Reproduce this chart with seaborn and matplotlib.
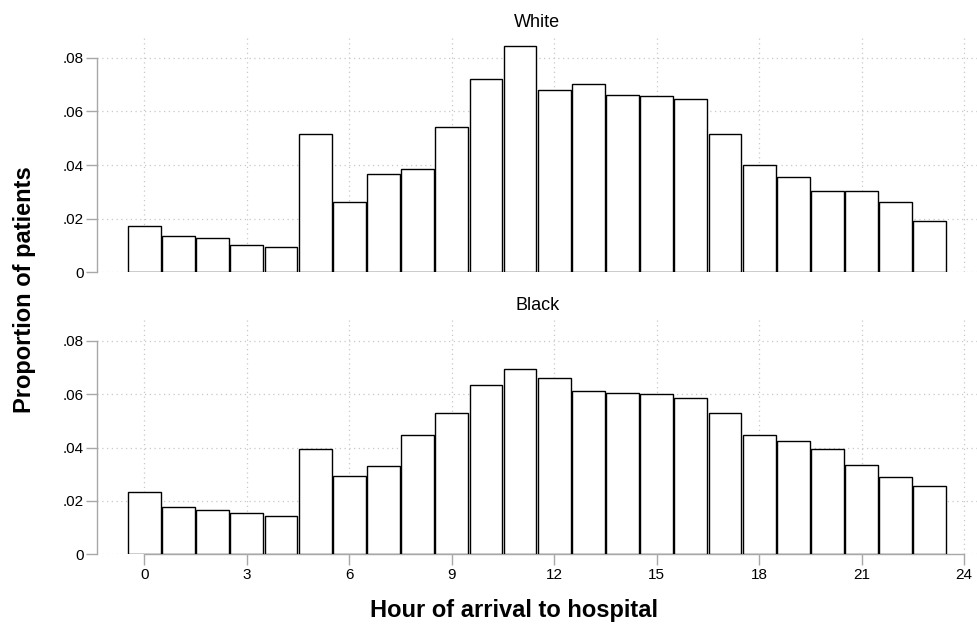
import pandas as pd
import matplotlib.pyplot as plt
import seaborn as sns

# hour of arrival, one bar per hour
hours = list(range(24))

white = [0.0174, 0.0137, 0.0129, 0.0101, 0.0096, 0.0517, 0.0262, 0.0365,
         0.0385, 0.0542, 0.0720, 0.0843, 0.0680, 0.0704, 0.0660, 0.0656,
         0.0647, 0.0514, 0.0402, 0.0354, 0.0305, 0.0304, 0.0264, 0.0192]

black = [0.0232, 0.0177, 0.0167, 0.0156, 0.0144, 0.0396, 0.0295, 0.0331,
         0.0449, 0.0529, 0.0636, 0.0695, 0.0661, 0.0612, 0.0605, 0.0600,
         0.0585, 0.0531, 0.0446, 0.0426, 0.0394, 0.0334, 0.0289, 0.0256]

panels = ['White', 'Black']
y_ticks = [0, 0.02, 0.04, 0.06, 0.08]
y_labels = ['0', '.02', '.04', '.06', '.08']
x_ticks = [0, 3, 6, 9, 12, 15, 18, 21, 24]

dat = pd.DataFrame({'hour': hours * 2,
                    'prop': white + black,
                    'race': ['White'] * 24 + ['Black'] * 24})

sns.set_style("white")
plt.rcParams['font.family'] = ['Liberation Sans', 'DejaVu Sans']
plt.rcParams['text.color'] = 'black'
plt.rcParams['xtick.labelcolor'] = 'black'
plt.rcParams['ytick.labelcolor'] = 'black'

W, H = 977, 632
fig = plt.figure(figsize=(W / 100, H / 100), dpi=100)

# axes boxes in pixels: (top, bottom)
boxes = {'White': (35, 272.3), 'Black': (318.3, 554.3)}
left_px, right_px = 97.3, 977

axis_col = '#a8a8a8'
grid_col = '#c8c8c8'

for race in panels:
    top, bot = boxes[race]
    ax = fig.add_axes([left_px / W, 1 - bot / H, (right_px - left_px) / W, (bot - top) / H])
    sub = dat[dat['race'] == race]
    sns.barplot(sub, x='hour', y='prop', native_scale=True, width=0.96,
                color='white', edgecolor='black', linewidth=1.0,
                saturation=1, ax=ax, zorder=3)
    ax.set_xlim(-1.38, 24.38)
    ax.set_ylim(0, 0.0885)
    ax.set_yticks(y_ticks)
    ax.set_yticklabels(y_labels)
    ax.set_xticks(x_ticks)
    ax.grid(True, color=grid_col, linestyle=(0, (1, 2.8)), linewidth=0.9, zorder=0)
    ax.set_axisbelow(True)
    for s in ['top', 'right']:
        ax.spines[s].set_visible(False)
    ax.spines['left'].set_color(axis_col)
    ax.spines['left'].set_linewidth(1.0)
    ax.spines['left'].set_bounds(0, 0.08)
    ax.tick_params(axis='y', left=True, length=8, width=1.0, color=axis_col,
                   labelsize=11, labelcolor='black', pad=2)
    if race == 'Black':
        ax.spines['bottom'].set_color(axis_col)
        ax.spines['bottom'].set_linewidth(1.0)
        ax.spines['bottom'].set_bounds(0, 24)
        ax.tick_params(axis='x', bottom=True, length=8, width=1.0, color=axis_col,
                       labelsize=11, labelcolor='black', pad=2)
    else:
        ax.spines['bottom'].set_visible(False)
        ax.tick_params(axis='x', bottom=False, labelbottom=False)
    ax.set_xlabel(None)
    ax.set_ylabel(None)
    ax.set_title(race, fontsize=13, pad=6, color='black')

fig.text(514 / W, 1 - 610 / H, 'Hour of arrival to hospital', ha='center', va='center',
         fontsize=17, fontweight='bold', color='black')
fig.text(25 / W, 1 - 290 / H, 'Proportion of patients', ha='center', va='center',
         rotation=90, fontsize=17, fontweight='bold', color='black')

plt.savefig('out.png', dpi=100)
